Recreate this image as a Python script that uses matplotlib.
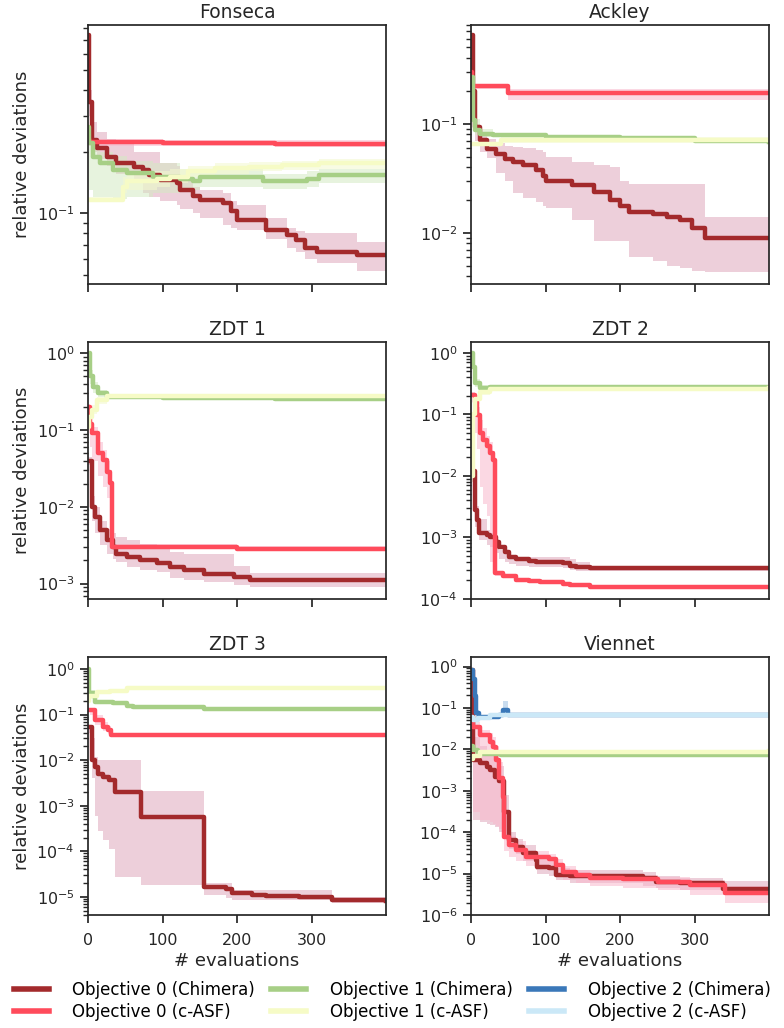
import matplotlib
matplotlib.use('Agg')
import matplotlib.pyplot as plt
from matplotlib.lines import Line2D
from matplotlib.ticker import LogLocator, NullFormatter

# colours for objective 0/1/2, Chimera and c-ASF
c0_chim = '#a32a2c'
c0_asf = '#ff4b5b'
c1_chim = '#a7cf86'
c1_asf = '#f6fbc6'
c2_chim = '#3a78b9'
c2_asf = '#cbe8f7'
b0_chim = '#dfa9bd'
b0_asf = '#f9b8cc'
b1_chim = '#d5eac4'
b1_asf = '#f4f9cf'
b2_chim = '#9cc0e3'
b2_asf = '#d9eefa'

titles = ['Fonseca', 'Ackley', 'ZDT 1', 'ZDT 2', 'ZDT 3', 'Viennet']
legend_labels = ['Objective 0 (Chimera)', 'Objective 0 (c-ASF)',
                 'Objective 1 (Chimera)', 'Objective 1 (c-ASF)',
                 'Objective 2 (Chimera)', 'Objective 2 (c-ASF)']

# ---------------- Fonseca ----------------
fon_x0c = [0, 2, 5, 12, 25, 38, 61, 74, 82, 96, 119, 123, 141, 150, 181, 192, 199, 239, 266, 278, 291, 306, 360, 399]
fon_y0c = [0.745, 0.35, 0.228, 0.208, 0.189, 0.175, 0.169, 0.163, 0.154, 0.145, 0.140, 0.130, 0.121, 0.116, 0.112, 0.102, 0.093, 0.083, 0.078, 0.074, 0.0675, 0.065, 0.0626, 0.0626]
fon_lo0c = [0.7, 0.3, 0.2, 0.185, 0.17, 0.155, 0.14, 0.125, 0.12, 0.115, 0.11, 0.105, 0.1, 0.095, 0.088, 0.085, 0.083, 0.075, 0.068, 0.065, 0.06, 0.057, 0.052, 0.052]
fon_hi0c = [0.75, 0.4, 0.28, 0.25, 0.23, 0.22, 0.2, 0.2, 0.2, 0.175, 0.17, 0.145, 0.135, 0.13, 0.125, 0.115, 0.11, 0.095, 0.085, 0.082, 0.08, 0.08, 0.072, 0.072]
fon_x0a = [0, 2, 100, 250, 399]
fon_y0a = [0.23, 0.222, 0.221, 0.219, 0.218]
fon_lo0a = [0.215, 0.212, 0.212, 0.21, 0.21]
fon_hi0a = [0.24, 0.23, 0.229, 0.227, 0.226]
fon_x1c = [0, 2, 7, 16, 34, 52, 87, 123, 141, 150, 235, 293, 310, 399]
fon_y1c = [0.265, 0.22, 0.189, 0.175, 0.163, 0.157, 0.151, 0.147, 0.143, 0.151, 0.143, 0.147, 0.154, 0.154]
fon_lo1c = [0.25, 0.13, 0.12, 0.12, 0.118, 0.12, 0.125, 0.13, 0.13, 0.135, 0.132, 0.135, 0.14, 0.14]
fon_hi1c = [0.28, 0.26, 0.22, 0.2, 0.19, 0.18, 0.175, 0.165, 0.16, 0.165, 0.155, 0.16, 0.165, 0.165]
fon_x1a = [0, 47, 52, 93, 110, 134, 170, 215, 260, 310, 399]
fon_y1a = [0.116, 0.135, 0.143, 0.147, 0.151, 0.16, 0.166, 0.169, 0.172, 0.175, 0.175]
fon_lo1a = [0.113, 0.125, 0.13, 0.135, 0.14, 0.15, 0.155, 0.16, 0.163, 0.165, 0.165]
fon_hi1a = [0.12, 0.15, 0.16, 0.16, 0.165, 0.17, 0.175, 0.178, 0.18, 0.185, 0.185]

# ---------------- Ackley ----------------
ack_x0c = [0, 2, 5, 12, 21, 34, 45, 56, 70, 87, 96, 100, 135, 164, 186, 200, 211, 244, 262, 280, 296, 313, 399]
ack_y0c = [0.645, 0.2, 0.093, 0.0703, 0.059, 0.053, 0.0477, 0.0445, 0.0415, 0.0373, 0.0335, 0.030, 0.0272, 0.0236, 0.0198, 0.0178, 0.0155, 0.0149, 0.0139, 0.013, 0.0112, 0.009, 0.009]
ack_lo0c = [0.6, 0.1, 0.07, 0.055, 0.048, 0.035, 0.03, 0.023, 0.021, 0.019, 0.0175, 0.017, 0.013, 0.0085, 0.0085, 0.0085, 0.006, 0.0055, 0.005, 0.0048, 0.0045, 0.0044, 0.0044]
ack_hi0c = [0.65, 0.25, 0.1, 0.08, 0.072, 0.066, 0.062, 0.061, 0.06, 0.058, 0.055, 0.05, 0.045, 0.042, 0.04, 0.03, 0.028, 0.028, 0.028, 0.028, 0.028, 0.0139, 0.0139]
ack_x0a = [0, 1, 50, 399]
ack_y0a = [0.3, 0.22, 0.191, 0.191]
ack_lo0a = [0.28, 0.21, 0.165, 0.165]
ack_hi0a = [0.32, 0.23, 0.21, 0.21]
ack_x1c = [0, 2, 5, 12, 30, 100, 200, 300, 399]
ack_y1c = [0.27, 0.107, 0.087, 0.081, 0.079, 0.0754, 0.0738, 0.07, 0.0678]
ack_lo1c = [0.25, 0.09, 0.078, 0.076, 0.075, 0.073, 0.071, 0.068, 0.066]
ack_hi1c = [0.3, 0.125, 0.11, 0.09, 0.083, 0.078, 0.076, 0.072, 0.07]
ack_x1a = [0, 40, 399]
ack_y1a = [0.0655, 0.0713, 0.0713]
ack_lo1a = [0.063, 0.067, 0.067]
ack_hi1a = [0.068, 0.076, 0.076]

# ---------------- ZDT 1 ----------------
z1_x0c = [0, 5, 9, 16, 25, 34, 38, 52, 70, 92, 110, 128, 155, 195, 217, 399]
z1_y0c = [0.04, 0.01, 0.0074, 0.005, 0.0037, 0.003, 0.00245, 0.00223, 0.00202, 0.00184, 0.00165, 0.0015, 0.00133, 0.00123, 0.00113, 0.00113]
z1_lo0c = [0.035, 0.0065, 0.0045, 0.0032, 0.00245, 0.0021, 0.0019, 0.00165, 0.0015, 0.0014, 0.0012, 0.0011, 0.00105, 0.00095, 0.0009, 0.0009]
z1_hi0c = [0.045, 0.014, 0.01, 0.0065, 0.0052, 0.0045, 0.004, 0.0037, 0.0033, 0.003, 0.0026, 0.00245, 0.00245, 0.0017, 0.00137, 0.00137]
z1_x0a = [0, 3, 6, 13, 20, 25, 29.5, 32, 200, 399]
z1_y0a = [0.2, 0.12, 0.0906, 0.05, 0.0406, 0.0286, 0.0202, 0.003, 0.00286, 0.00286]
z1_lo0a = [0.18, 0.06, 0.04, 0.025, 0.018, 0.013, 0.009, 0.0028, 0.0027, 0.0027]
z1_hi0a = [0.22, 0.15, 0.11, 0.07, 0.055, 0.04, 0.03, 0.0033, 0.0031, 0.0031]
z1_x1c = [0, 3, 7, 13, 25, 100, 250, 399]
z1_y1c = [1.0, 0.5, 0.367, 0.30, 0.272, 0.265, 0.255, 0.251]
z1_lo1c = [0.9, 0.4, 0.3, 0.27, 0.26, 0.255, 0.245, 0.24]
z1_hi1c = [1.05, 0.6, 0.42, 0.33, 0.285, 0.275, 0.265, 0.26]
z1_x1a = [0, 2, 5, 12, 25, 399]
z1_y1a = [0.11, 0.15, 0.183, 0.246, 0.277, 0.277]
z1_lo1a = [0.1, 0.13, 0.16, 0.22, 0.265, 0.265]
z1_hi1a = [0.13, 0.17, 0.21, 0.27, 0.29, 0.29]

# ---------------- ZDT 2 ----------------
z2_x0c = [0, 5, 8.5, 11, 21, 25, 34, 38, 45, 51, 60, 78, 87, 123, 132, 141, 159, 399]
z2_y0c = [0.012, 0.0028, 0.0019, 0.00117, 0.0011, 0.001, 0.00086, 0.00071, 0.00058, 0.000484, 0.00044, 0.00042, 0.000394, 0.00038, 0.00035, 0.000335, 0.00032, 0.000315]
z2_lo0c = [0.008, 0.0015, 0.0012, 0.0009, 0.00075, 0.0007, 0.00055, 0.00045, 0.0004, 0.00037, 0.00034, 0.00033, 0.00033, 0.00032, 0.0003, 0.00028, 0.00028, 0.00028]
z2_hi0c = [0.015, 0.0087, 0.0032, 0.002, 0.0013, 0.00117, 0.0009, 0.00063, 0.00055, 0.00049, 0.00049, 0.00049, 0.00049, 0.00049, 0.00044, 0.0004, 0.00035, 0.00035]
z2_x0a = [0, 5, 8.5, 12, 16, 21, 25, 29, 32, 43, 60, 78, 92, 123, 132, 159, 399]
z2_y0a = [0.21, 0.16, 0.099, 0.0498, 0.0387, 0.0302, 0.0236, 0.0183, 0.000261, 0.000233, 0.000206, 0.000194, 0.00019, 0.000177, 0.000167, 0.000158, 0.000156]
z2_lo0a = [0.19, 0.05, 0.027, 0.0067, 0.0035, 0.0022, 0.0004, 0.00028, 0.00024, 0.00022, 0.000195, 0.000185, 0.00018, 0.000168, 0.00016, 0.00015, 0.00015]
z2_hi0a = [0.23, 0.2, 0.13, 0.08, 0.06, 0.045, 0.035, 0.025, 0.00028, 0.00025, 0.00022, 0.000205, 0.0002, 0.000187, 0.000176, 0.000166, 0.000163]
z2_x1c = [0, 2, 5, 12, 25, 399]
z2_y1c = [1.0, 0.6, 0.325, 0.27, 0.28, 0.275]
z2_lo1c = [0.9, 0.45, 0.28, 0.25, 0.265, 0.262]
z2_hi1c = [1.05, 0.75, 0.38, 0.3, 0.295, 0.288]
z2_x1a = [0, 2, 5, 12, 25, 399]
z2_y1a = [0.01, 0.1, 0.18, 0.23, 0.26, 0.27]
z2_lo1a = [0.008, 0.07, 0.15, 0.21, 0.25, 0.255]
z2_hi1a = [0.013, 0.13, 0.21, 0.25, 0.28, 0.285]

# ---------------- ZDT 3 ----------------
z3_x0c = [0, 5, 9, 13, 20, 28, 36, 71, 156, 185, 193, 220, 238, 282, 327, 399]
z3_y0c = [0.054, 0.01, 0.0072, 0.0051, 0.0043, 0.00365, 0.002, 0.00057, 1.66e-5, 1.5e-5, 1.19e-5, 1.1e-5, 1.05e-5, 1.0e-5, 8.5e-6, 8.1e-6]
z3_lo0c = [0.04, 0.004, 0.0006, 0.00028, 0.00018, 0.00011, 2.8e-5, 1.8e-5, 1.1e-5, 9.5e-6, 8.5e-6, 8.5e-6, 8.5e-6, 8.5e-6, 7.3e-6, 7.3e-6]
z3_hi0c = [0.06, 0.03, 0.012, 0.01, 0.01, 0.01, 0.01, 0.0021, 2e-5, 2e-5, 1.4e-5, 1.4e-5, 1.4e-5, 1.4e-5, 1e-5, 1e-5]
z3_x0a = [3, 9, 20, 27, 31, 399]
z3_y0a = [0.126, 0.076, 0.054, 0.046, 0.0356, 0.0356]
z3_lo0a = [0.1, 0.06, 0.044, 0.038, 0.033, 0.033]
z3_hi0a = [0.14, 0.1, 0.07, 0.055, 0.038, 0.038]
z3_x1c = [0, 2, 9, 34, 52, 60, 156, 399]
z3_y1c = [1.0, 0.297, 0.19, 0.18, 0.154, 0.146, 0.132, 0.132]
z3_lo1c = [0.9, 0.25, 0.17, 0.16, 0.145, 0.138, 0.125, 0.125]
z3_hi1c = [1.1, 0.35, 0.21, 0.195, 0.165, 0.155, 0.14, 0.14]
z3_x1a = [0, 2, 12, 29, 52, 399]
z3_y1a = [0.2, 0.25, 0.318, 0.33, 0.376, 0.376]
z3_lo1a = [0.15, 0.22, 0.3, 0.315, 0.355, 0.355]
z3_hi1a = [0.25, 0.28, 0.34, 0.35, 0.4, 0.4]

# ---------------- Viennet ----------------
vie_x0c = [0, 3, 12, 21, 25, 32, 38, 44.6, 51, 60, 69, 87, 89, 105, 114, 132, 230, 248, 280, 338, 399]
vie_y0c = [0.83, 0.0056, 0.0047, 0.0038, 0.0032, 0.0022, 0.0017, 0.00031, 6.5e-5, 4.5e-5, 3.1e-5, 2.1e-5, 1.47e-5, 1.38e-5, 9.3e-6, 8.6e-6, 7.8e-6, 6.3e-6, 5.9e-6, 4.2e-6, 4.2e-6]
vie_lo0c = [0.7, 0.0002, 0.00018, 0.00016, 0.00015, 0.00013, 0.0001, 8e-5, 4e-5, 3e-5, 2e-5, 1.2e-5, 1e-5, 9e-6, 7e-6, 6e-6, 5e-6, 4.5e-6, 4e-6, 3e-6, 2.5e-6]
vie_hi0c = [0.9, 0.02, 0.012, 0.008, 0.007, 0.005, 0.004, 0.0008, 0.0001, 7e-5, 5e-5, 3e-5, 2.2e-5, 2e-5, 1.4e-5, 1.2e-5, 1.1e-5, 9e-6, 8e-6, 6.5e-6, 5.5e-6]
vie_x0a = [0, 3, 12, 25, 30, 34, 38, 43, 44.6, 51, 60, 74, 105, 114, 123, 141, 159, 204, 250, 293, 340, 399]
vie_y0a = [0.05, 0.035, 0.022, 0.0154, 0.0116, 0.0056, 0.002, 0.00072, 7.8e-5, 4.9e-5, 3.7e-5, 2.57e-5, 2.3e-5, 1.6e-5, 1.1e-5, 9.3e-6, 7.8e-6, 7.4e-6, 6.3e-6, 5.3e-6, 3.35e-6, 3.35e-6]
vie_lo0a = [0.03, 0.0003, 0.0002, 0.00018, 0.00016, 0.00014, 0.00012, 0.0001, 3.5e-5, 2.5e-5, 2e-5, 1.5e-5, 1.3e-5, 1e-5, 7e-6, 6e-6, 5e-6, 4.5e-6, 4e-6, 3e-6, 2e-6, 1.9e-6]
vie_hi0a = [0.06, 0.045, 0.03, 0.025, 0.02, 0.012, 0.005, 0.002, 0.00025, 8e-5, 6e-5, 3.5e-5, 3e-5, 2.2e-5, 1.5e-5, 1.2e-5, 1e-5, 9.5e-6, 8.5e-6, 7e-6, 5e-6, 5e-6]
vie_x1c = [0, 3, 10, 40, 399]
vie_y1c = [0.012, 0.0095, 0.0078, 0.0075, 0.0078]
vie_lo1c = [0.009, 0.007, 0.007, 0.0068, 0.0072]
vie_hi1c = [0.016, 0.013, 0.0085, 0.008, 0.0083]
vie_x1a = [0, 3, 12, 399]
vie_y1a = [0.006, 0.007, 0.0085, 0.009]
vie_lo1a = [0.005, 0.006, 0.0078, 0.0082]
vie_hi1a = [0.0075, 0.0085, 0.0095, 0.0098]
vie_x2c = [0, 2, 5, 7, 11, 38, 43, 49, 399]
vie_y2c = [0.83, 0.5, 0.19, 0.075, 0.062, 0.066, 0.09, 0.067, 0.067]
vie_lo2c = [0.7, 0.35, 0.12, 0.06, 0.055, 0.06, 0.07, 0.062, 0.062]
vie_hi2c = [0.9, 0.6, 0.25, 0.09, 0.066, 0.07, 0.15, 0.072, 0.07]
vie_x2a = [0, 2, 10, 25, 399]
vie_y2a = [0.062, 0.05, 0.058, 0.066, 0.067]
vie_lo2a = [0.04, 0.04, 0.05, 0.059, 0.06]
vie_hi2a = [0.08, 0.06, 0.066, 0.073, 0.075]

ylims = [(0.0451, 0.83), (0.0034, 0.8), (6.3e-4, 1.4), (1e-4, 1.5), (4e-6, 1.84), (1e-6, 1.7)]

# (x, y, lo, hi, line colour, band colour) per panel, drawn in this order
panels = [
    [(fon_x0c, fon_y0c, fon_lo0c, fon_hi0c, c0_chim, b0_chim),
     (fon_x0a, fon_y0a, fon_lo0a, fon_hi0a, c0_asf, b0_asf),
     (fon_x1c, fon_y1c, fon_lo1c, fon_hi1c, c1_chim, b1_chim),
     (fon_x1a, fon_y1a, fon_lo1a, fon_hi1a, c1_asf, b1_asf)],
    [(ack_x0c, ack_y0c, ack_lo0c, ack_hi0c, c0_chim, b0_chim),
     (ack_x0a, ack_y0a, ack_lo0a, ack_hi0a, c0_asf, b0_asf),
     (ack_x1c, ack_y1c, ack_lo1c, ack_hi1c, c1_chim, b1_chim),
     (ack_x1a, ack_y1a, ack_lo1a, ack_hi1a, c1_asf, b1_asf)],
    [(z1_x0c, z1_y0c, z1_lo0c, z1_hi0c, c0_chim, b0_chim),
     (z1_x0a, z1_y0a, z1_lo0a, z1_hi0a, c0_asf, b0_asf),
     (z1_x1c, z1_y1c, z1_lo1c, z1_hi1c, c1_chim, b1_chim),
     (z1_x1a, z1_y1a, z1_lo1a, z1_hi1a, c1_asf, b1_asf)],
    [(z2_x0c, z2_y0c, z2_lo0c, z2_hi0c, c0_chim, b0_chim),
     (z2_x0a, z2_y0a, z2_lo0a, z2_hi0a, c0_asf, b0_asf),
     (z2_x1c, z2_y1c, z2_lo1c, z2_hi1c, c1_chim, b1_chim),
     (z2_x1a, z2_y1a, z2_lo1a, z2_hi1a, c1_asf, b1_asf)],
    [(z3_x0c, z3_y0c, z3_lo0c, z3_hi0c, c0_chim, b0_chim),
     (z3_x0a, z3_y0a, z3_lo0a, z3_hi0a, c0_asf, b0_asf),
     (z3_x1c, z3_y1c, z3_lo1c, z3_hi1c, c1_chim, b1_chim),
     (z3_x1a, z3_y1a, z3_lo1a, z3_hi1a, c1_asf, b1_asf)],
    [(vie_x0c, vie_y0c, vie_lo0c, vie_hi0c, c0_chim, b0_chim),
     (vie_x0a, vie_y0a, vie_lo0a, vie_hi0a, c0_asf, b0_asf),
     (vie_x1c, vie_y1c, vie_lo1c, vie_hi1c, c1_chim, b1_chim),
     (vie_x1a, vie_y1a, vie_lo1a, vie_hi1a, c1_asf, b1_asf),
     (vie_x2c, vie_y2c, vie_lo2c, vie_hi2c, c2_chim, b2_chim),
     (vie_x2a, vie_y2a, vie_lo2a, vie_hi2a, c2_asf, b2_asf)],
]

plt.rcParams['font.family'] = ['DejaVu Sans']
edge = '#262626'

fig = plt.figure(figsize=(7.84, 10.28), dpi=100)
lefts = [0.1122, 0.6008]
bottoms = [0.7237, 0.4173, 0.1099]
heights = [0.2519, 0.25, 0.251]
width = 0.3801

for i in range(6):
    row, col = i // 2, i % 2
    ax = fig.add_axes([lefts[col], bottoms[row], width, heights[row]])
    series = panels[i]
    for x, y, lo, hi, lc, bc in series:
        ax.fill_between(x, lo, hi, step='post', color=bc, alpha=0.55, lw=0)
    for x, y, lo, hi, lc, bc in series:
        ax.plot(x, y, drawstyle='steps-post', color=lc, lw=3.2)
    ax.set_yscale('log')
    ax.set_xlim(0, 399)
    ax.set_ylim(*ylims[i])
    ax.set_xticks([0, 100, 200, 300])
    ax.yaxis.set_major_locator(LogLocator(base=10, numticks=12))
    ax.yaxis.set_minor_locator(LogLocator(base=10, subs=[2, 3, 4, 5, 6, 7, 8, 9], numticks=12))
    ax.yaxis.set_minor_formatter(NullFormatter())
    ax.tick_params(which='major', direction='out', length=6, width=1.25, color=edge, labelsize=11.5, labelcolor=edge)
    ax.tick_params(axis='x', which='major', pad=7)
    ax.tick_params(which='minor', direction='out', length=3.5, width=1.0, color=edge)
    for s in ax.spines.values():
        s.set_color(edge)
        s.set_linewidth(1.25)
    ax.set_title(titles[i], fontsize=13.5, color=edge, pad=5)
    if row < 2:
        ax.set_xticklabels([])
    else:
        ax.set_xlabel('# evaluations', fontsize=13, color=edge, labelpad=3)
    if col == 0:
        ax.set_ylabel('relative deviations', fontsize=13, color=edge)

handle_colors = [c0_chim, c0_asf, c1_chim, c1_asf, c2_chim, c2_asf]
handles = [Line2D([], [], color=c, lw=4) for c in handle_colors]
fig.legend(handles, legend_labels, ncol=3, loc='center', bbox_to_anchor=(0.5, 1 - 1001 / 1028),
           frameon=False, fontsize=12, handlelength=2.1, handletextpad=1.4,
           columnspacing=1.0, labelspacing=0.25, borderaxespad=0, borderpad=0)

fig.savefig('out.png', dpi=100)
